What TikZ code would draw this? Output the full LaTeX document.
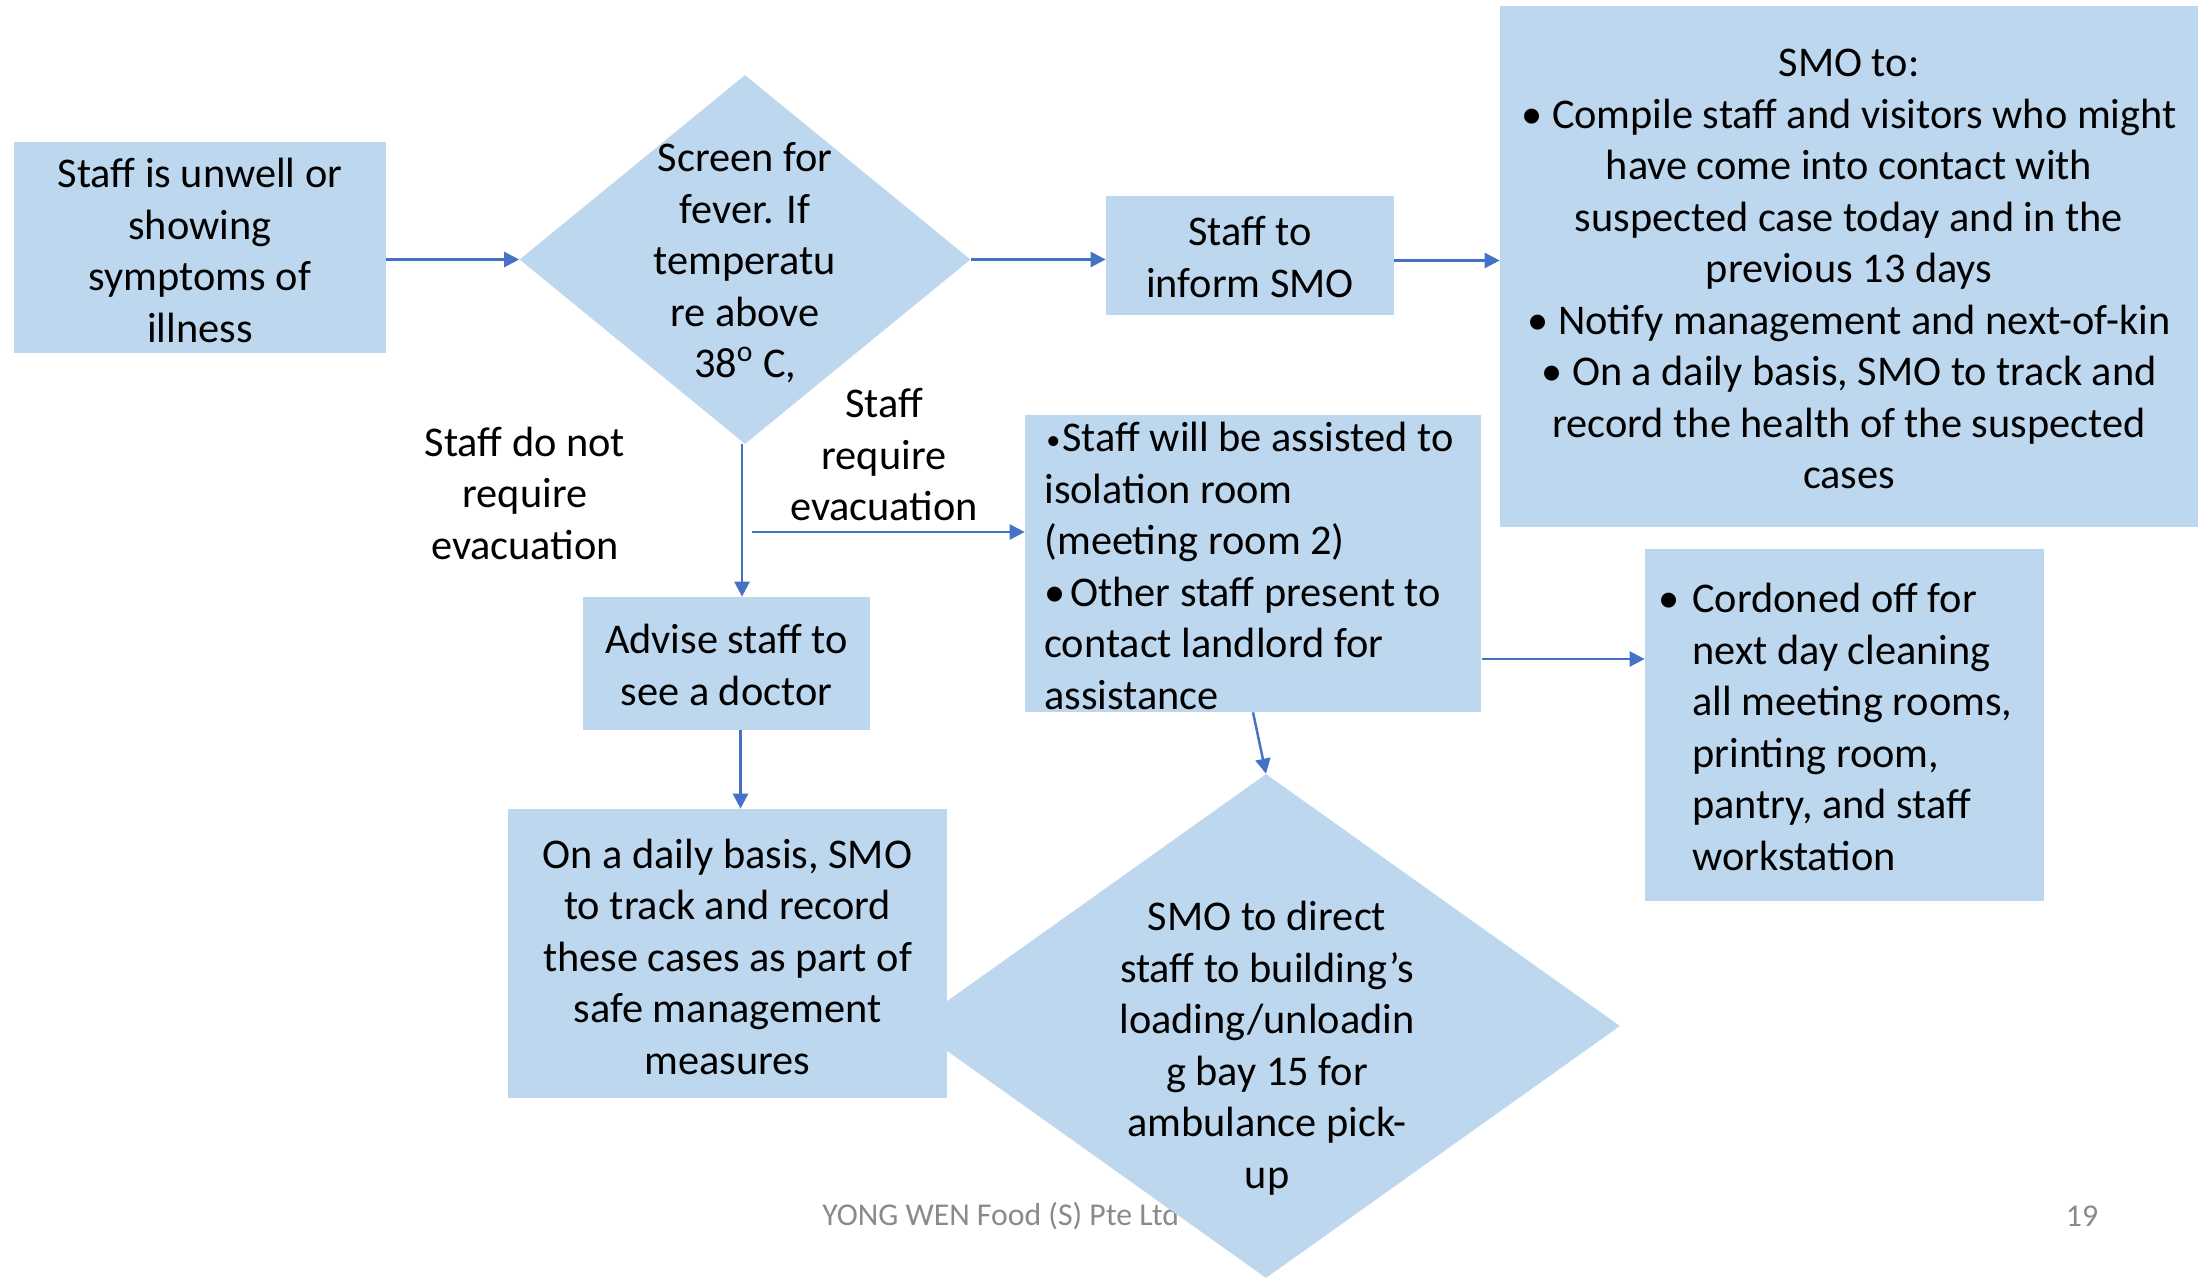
\documentclass[tikz,border=0pt]{standalone}
\usepackage{fontspec}
\setmainfont{Carlito}
\usetikzlibrary{shapes.geometric,arrows.meta,calc}
\newcommand\pxunit{0.5669pt}
\definecolor{boxfill}{HTML}{BDD7EE}
\definecolor{flowblue}{HTML}{4472C4}
\definecolor{footgray}{HTML}{8A8A8A}

\begin{document}
\begin{tikzpicture}[x={(0.5669pt,0)}, y={(0,-0.5669pt)},
  box/.style={rectangle, fill=boxfill, inner sep=0pt},
  dia/.style={diamond, fill=boxfill, inner sep=0pt},
  txt/.style={inner sep=0pt, font=\fontsize{24}{29.2}\selectfont, align=center},
  foot/.style={inner sep=0pt, font=\fontsize{18}{22}\selectfont, text=footgray},
  flow/.style={draw=flowblue, line width=1.4pt, -{Triangle[length=8.5pt,width=8.5pt]}}]

\useasboundingbox[fill=white] (0,0) rectangle (2207,1281);

% process boxes and the screening decision
\node[box, minimum width=372*\pxunit, minimum height=211*\pxunit] (unwell) at (200,247.5) {};
\node[dia, minimum width=451*\pxunit, minimum height=369*\pxunit] (screen) at (745,259.5) {};
\node[box, minimum width=288*\pxunit, minimum height=119*\pxunit] (inform) at (1250,255.5) {};
\node[box, minimum width=698*\pxunit, minimum height=521*\pxunit] (smo) at (1849,266.5) {};
\node[box, minimum width=456*\pxunit, minimum height=297*\pxunit] (isolate) at (1253,563.5) {};
\node[box, minimum width=287*\pxunit, minimum height=133*\pxunit] (advise) at (726.5,663.5) {};
\node[box, minimum width=399*\pxunit, minimum height=352*\pxunit] (cordon) at (1844.5,725) {};

% footer
\node[foot, anchor=west] (company) at (822,1216) {YONG WEN Food (S) Pte Ltd};
\node[foot] (pageno) at (2082,1216) {19};

% ambulance decision and daily record
\node[dia, minimum width=708*\pxunit, minimum height=504*\pxunit] (direct) at (1266,1026) {};
\node[box, minimum width=439*\pxunit, minimum height=289*\pxunit] (record) at (727.5,953.5) {};

% texts
\node[txt] (unwelltxt) at (200,250.5) {Staff is unwell or\\showing\\symptoms of\\illness};
\node[txt] (screentxt) at (745,263)
  {Screen for\\fever. If\\temperatu\\re above\\38\textsuperscript{o} C,};
\node[txt] (informtxt) at (1250,257) {Staff to\\inform SMO};
\node[txt] (smotxt) at (1849,269)
  {SMO to:\\
   • Compile staff and visitors who might\\
   have come into contact with\\
   suspected case today and in the\\
   previous 13 days\\
   • Notify management and next-of-kin\\
   • On a daily basis, SMO to track and\\
   record the health of the suspected\\
   cases};
\node[txt, anchor=west, align=left] (isolatetxt) at (1044,566)
  {\makebox[10.2pt][c]{\raisebox{1.5pt}{\fontsize{16}{16}\selectfont •}}Staff will be assisted to\\
   isolation room\\
   (meeting room 2)\\
   \makebox[14.7pt][l]{•}Other staff present to\\
   contact landlord for\\
   assistance};
\node[txt] (advisetxt) at (726.5,665) {Advise staff to\\see a doctor};
\node[txt] (recordtxt) at (727.5,956.5)
  {On a daily basis, SMO\\to track and record\\these cases as part of\\safe management\\measures};
\node[txt] (directtxt) at (1267,1048)
  {SMO to direct\\staff to building’s\\loading/unloadin\\g bay 15 for\\ambulance pick-\\up};
\node[txt, anchor=west, align=left] (cordontxt) at (1692,727)
  {\llap{•\hspace{7pt}}Cordoned off for\\
   next day cleaning\\
   all meeting rooms,\\
   printing room,\\
   pantry, and staff\\
   workstation};

% branch labels
\node[txt] (nolabel) at (525,493) {Staff do not\\require\\evacuation};
\node[txt] (yeslabel) at (884,455) {Staff\\require\\evacuation};

% connectors
\coordinate (evac) at (752,532);
\coordinate (clean) at (1482,659);
\coordinate (sdrop) at ($(screen.south)+(-3,0)$);
\coordinate (adrop) at ($(advise.south)+(14,0)$);
\coordinate (iout) at ($(inform.east)+(0,5)$);
\draw[flow] (unwell.east |- screen.west) -- (screen.west);
\draw[flow] (screen.east) -- (inform.west |- screen.east);
\draw[flow] (iout) -- (smo.west |- iout);
\draw[flow] (sdrop) -- (sdrop |- advise.north);
\draw[flow] (adrop) -- (adrop |- record.north);
\draw[flow] (evac) -- (isolate.west |- evac);
\draw[flow] (clean) -- (cordon.west |- clean);
\draw[flow] (isolate.south) -- (direct.north);
\end{tikzpicture}
\end{document}
